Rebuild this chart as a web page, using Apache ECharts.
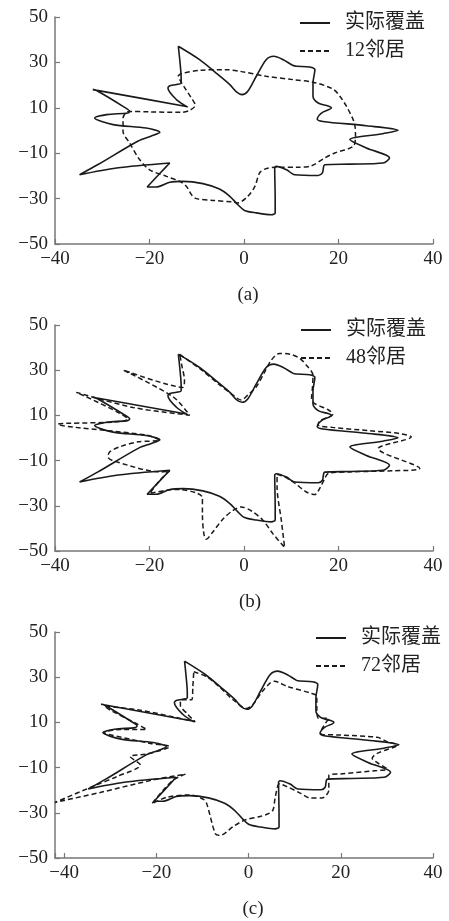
<!DOCTYPE html>
<html>
<head>
<meta charset="utf-8">
<script src="https://cdn.jsdelivr.net/npm/echarts@6/dist/echarts.min.js"></script>
<style>
  html, body { margin: 0; padding: 0; background: #fff; }
  #chart { width: 449px; height: 921px; }
</style>
</head>
<body>
<div id="chart"></div>
<script>
// actual coverage boundary (same in all three panels), traced clockwise
const actualCoverage = [
  [-13.9, 37.1], [-9.4, 31.2], [-5.9, 25.3], [-3.0, 20.2], [-1.6, 17.0], [-0.4, 15.8],
  [0.8, 17.3], [2.6, 23.9], [4.7, 31.2], [6.3, 32.7], [8.3, 31.2], [10.4, 28.6],
  [11.1, 28.3], [13.9, 28.0], [15.0, 26.8], [14.6, 20.9], [14.6, 15.1], [15.7, 12.1],
  [17.8, 10.8], [18.5, 10.0], [16.4, 7.7], [15.5, 5.1], [16.7, 4.0], [25.9, 2.1],
  [32.6, 0.1], [29.4, -1.4], [22.4, -4.0], [25.9, -7.7], [30.8, -12.1], [29.4, -14.3],
  [22.4, -14.8], [17.1, -15.1], [16.6, -18.7], [15.7, -19.8], [10.7, -19.5], [9.0, -17.3],
  [6.8, -15.8], [6.5, -16.5], [6.6, -30.5], [6.6, -36.3], [5.8, -37.1], [2.6, -36.3],
  [0.1, -35.2], [-1.3, -32.7], [-3.0, -29.0], [-5.2, -25.8], [-8.7, -23.4], [-12.9, -22.4],
  [-15.7, -22.8], [-18.6, -24.9], [-20.5, -24.9], [-16.4, -15.8], [-15.7, -14.3], [-27.0, -16.5],
  [-34.8, -19.5], [-30.9, -15.0], [-22.4, -4.6], [-19.6, -2.4], [-17.8, -0.8], [-20.7, 1.1],
  [-27.7, 2.6], [-31.6, 5.5], [-29.1, 7.0], [-24.6, 7.7], [-24.2, 8.4], [-25.6, 10.6],
  [-31.3, 17.7], [-32.0, 18.0], [-12.2, 10.6], [-11.9, 10.3], [-14.3, 13.6], [-16.1, 18.7],
  [-15.7, 19.7], [-13.3, 20.9], [-13.3, 23.1], [-13.6, 31.2], [-13.9, 37.1]
];

const neighbors12 = [
  [-14.0, 23.9], [-13.3, 25.0], [-9.4, 26.5], [-3.7, 26.8], [-0.9, 26.1], [4.7, 23.9],
  [10.4, 22.4], [14.6, 21.3], [18.8, 18.3], [20.3, 15.1], [21.7, 10.6], [23.1, 4.8],
  [23.5, 1.8], [23.6, -2.6], [23.1, -7.0], [19.2, -9.9], [17.1, -12.1], [14.3, -15.5],
  [11.4, -16.2], [6.5, -16.2], [4.4, -17.0], [3.3, -18.7], [2.3, -24.6], [0.8, -29.0],
  [-1.3, -31.9], [-2.3, -31.5], [-6.6, -30.8], [-10.1, -30.0], [-11.1, -28.3], [-12.2, -24.6],
  [-13.6, -22.4], [-16.4, -20.2], [-20.0, -17.3], [-22.1, -12.8], [-24.2, -5.5], [-25.6, -0.4],
  [-25.6, 5.5], [-24.9, 8.0], [-24.2, 8.4], [-20.0, 8.2], [-13.3, 8.0], [-11.5, 8.9],
  [-10.3, 11.1], [-11.2, 14.5], [-12.6, 19.0], [-13.6, 22.4], [-14.0, 23.9]
];

const neighbors48 = [
  [-13.6, 37.0], [-9.4, 30.8], [-5.1, 23.4], [-2.3, 19.0], [-0.6, 16.8], [0.8, 19.0],
  [2.6, 22.7], [4.4, 29.3], [5.8, 34.5], [7.5, 37.4], [9.7, 37.1], [11.8, 35.2],
  [13.5, 31.5], [14.6, 27.8], [14.5, 22.7], [14.3, 17.5], [14.9, 15.3], [17.8, 12.5],
  [18.8, 10.6], [16.0, 7.5], [15.7, 5.7], [18.8, 4.7], [26.6, 3.2], [32.9, 2.0],
  [35.4, 0.5], [28.4, -4.7], [37.2, -13.5], [31.5, -14.5], [22.4, -15.0], [17.8, -15.7],
  [17.1, -17.9], [16.0, -22.4], [15.0, -25.0], [13.2, -23.9], [10.7, -19.9], [8.6, -17.2],
  [7.0, -16.0], [7.0, -21.6], [7.9, -36.4], [8.6, -48.5], [6.1, -42.3], [4.0, -36.4],
  [1.6, -32.3], [-0.6, -30.5], [-2.3, -32.0], [-4.4, -35.7], [-6.6, -41.6], [-8.0, -44.8],
  [-8.5, -42.3], [-8.8, -33.5], [-8.8, -26.4], [-10.1, -24.3], [-13.6, -22.8], [-16.4, -23.1],
  [-20.0, -24.6], [-17.8, -18.7], [-16.1, -15.0], [-15.7, -14.5], [-17.5, -15.0], [-27.7, -10.1],
  [-28.8, -8.3], [-28.4, -6.1], [-26.3, -3.9], [-22.4, -1.7], [-17.8, -1.0], [-20.7, 1.3],
  [-39.4, 6.1], [-24.6, 8.3], [-35.5, 20.2], [-23.5, 13.5], [-11.5, 10.1], [-15.0, 18.2],
  [-25.6, 30.1], [-12.9, 22.4], [-12.6, 25.6], [-13.1, 31.5], [-13.6, 37.0]
];

const neighbors72 = [
  [-11.9, 32.4], [-9.0, 30.1], [-6.5, 26.0], [-3.3, 19.9], [-0.4, 16.2], [1.1, 18.4],
  [2.9, 23.5], [4.7, 27.5], [5.6, 28.2], [8.3, 26.0], [13.7, 22.8], [14.8, 21.6],
  [14.8, 15.4], [15.2, 11.8], [17.4, 11.8], [15.9, 7.0], [15.7, 4.9], [19.9, 4.4],
  [27.9, 3.4], [30.0, 1.5], [32.2, 0.0], [27.9, -3.7], [26.8, -5.9], [27.9, -7.8],
  [30.0, -10.7], [27.9, -11.3], [19.9, -12.8], [17.4, -13.5], [17.4, -19.9], [15.9, -23.5],
  [13.4, -23.5], [11.2, -21.3], [8.3, -18.4], [6.7, -17.2], [5.8, -22.8], [5.3, -28.7],
  [4.3, -30.4], [2.5, -31.6], [-0.7, -33.1], [-3.3, -36.0], [-6.2, -40.0], [-7.2, -39.3],
  [-9.0, -26.5], [-9.6, -24.3], [-12.7, -22.1], [-17.7, -23.1], [-21.0, -26.0], [-18.5, -19.9],
  [-16.3, -15.4], [-13.7, -12.9], [-20.6, -15.4], [-32.2, -21.0], [-42.0, -25.4], [-33.3, -17.9],
  [-28.6, -14.0], [-23.5, -8.8], [-25.7, -5.1], [-22.1, -4.0], [-17.1, -0.7], [-21.3, 0.7],
  [-30.8, 4.9], [-31.5, 5.4], [-27.9, 6.9], [-22.1, 6.9], [-24.2, 9.3], [-30.0, 15.4],
  [-31.3, 17.2], [-23.5, 15.4], [-11.6, 10.3], [-13.4, 14.0], [-14.8, 17.6], [-14.8, 19.9],
  [-12.3, 20.1], [-12.1, 25.7], [-11.9, 32.4]
];

const panelNames = ['12邻居', '48邻居', '72邻居'];
const panelData = [neighbors12, neighbors48, neighbors72];
const captions = ['(a)', '(b)', '(c)'];
const xMins = [-40, -40, -42];

const serif = "'Liberation Serif', 'Noto Sans CJK SC', serif";
const grids = [
  { left: 55, top: 17, width: 378, height: 227 },
  { left: 55, top: 325, width: 378, height: 226 },
  { left: 55, top: 632, width: 378, height: 226 }
];
const legendPos = [
  { left: 299, top: 11 },
  { left: 300, top: 318 },
  { left: 315, top: 626 }
];
const captionPos = [
  { left: 243, top: 281 },
  { left: 245, top: 588 },
  { left: 248, top: 895 }
];

const minus = v => String(v).replace('-', '−');
const fmtX = v => (Math.round(v) % 20 === 0) ? minus(v) : '';

const axisCommon = {
  type: 'value',
  axisLine: { show: true, onZero: false, lineStyle: { color: '#777', width: 1.5 } },
  axisTick: { show: true, inside: true, length: 5, lineStyle: { color: '#777', width: 1.2 } },
  splitLine: { show: false },
  axisLabel: { color: '#222', fontSize: 19, fontFamily: serif }
};

const chart = echarts.init(document.getElementById('chart'));

const series = [];
panelData.forEach((d, i) => {
  series.push({
    name: '实际覆盖', type: 'line', xAxisIndex: i, yAxisIndex: i,
    data: actualCoverage, symbol: 'none', smooth: 0.3,
    lineStyle: { color: '#1a1a1a', width: 1.6 }, itemStyle: { color: '#1a1a1a' }
  });
  series.push({
    name: panelNames[i], type: 'line', xAxisIndex: i, yAxisIndex: i,
    data: d, symbol: 'none', smooth: 0.3,
    lineStyle: { color: '#1a1a1a', width: 1.5, type: [5, 3] }, itemStyle: { color: '#1a1a1a' }
  });
});

chart.setOption({
  animation: false,
  grid: grids,
  title: captions.map((c, i) => ({
    text: c, left: captionPos[i].left, top: captionPos[i].top, textAlign: 'center',
    textStyle: { fontSize: 19, fontWeight: 'normal', fontFamily: serif, color: '#222' }
  })),
  legend: panelNames.map((n, i) => ({
    data: ['实际覆盖', n], orient: 'vertical', padding: 0,
    left: legendPos[i].left, top: legendPos[i].top + 2,
    itemWidth: 30, itemHeight: 14, itemGap: 8, selectedMode: false,
    itemStyle: { opacity: 0, borderWidth: 0 },
    textStyle: { fontSize: 20, fontFamily: serif, color: '#222', padding: [0, 0, 0, 10] }
  })),
  xAxis: xMins.map((m, i) => Object.assign({}, axisCommon, {
    gridIndex: i, min: m, max: 40,
    axisLabel: Object.assign({}, axisCommon.axisLabel, { margin: 6, formatter: fmtX })
  })),
  yAxis: [0, 1, 2].map(i => Object.assign({}, axisCommon, {
    gridIndex: i, min: -50, max: 50, interval: 20,
    axisLabel: Object.assign({}, axisCommon.axisLabel, { margin: 7, formatter: minus })
  })),
  series: series
});
</script>
</body>
</html>
